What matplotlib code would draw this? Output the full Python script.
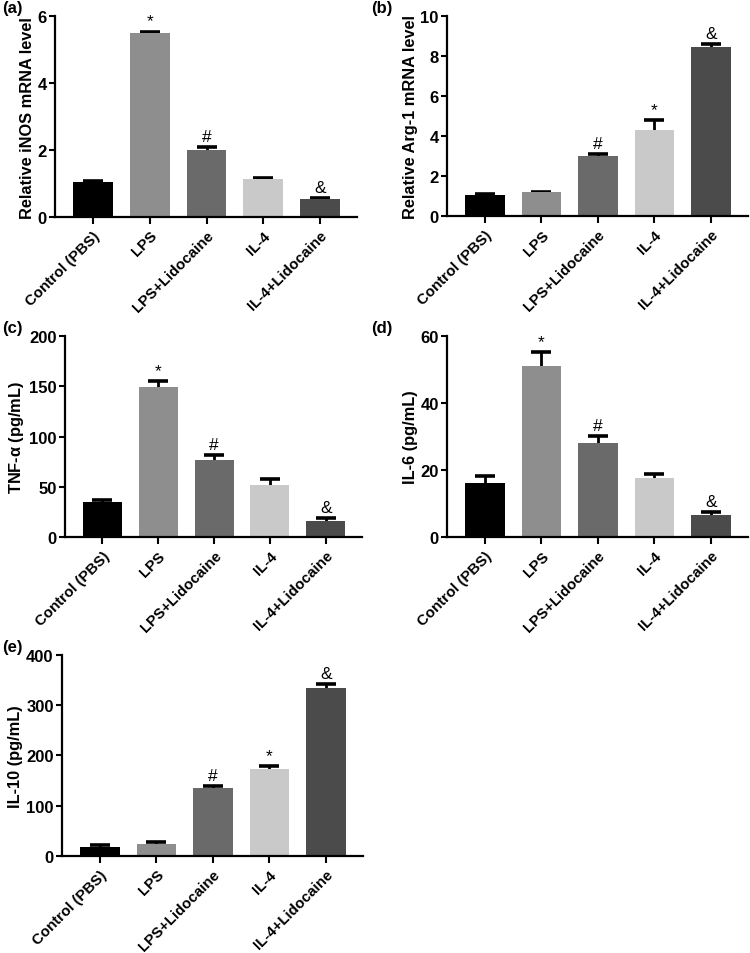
import numpy as np
import matplotlib
matplotlib.use("Agg")
import matplotlib.pyplot as plt

plt.rcParams['font.family'] = ['Liberation Sans', 'DejaVu Sans']
plt.rcParams['font.weight'] = 'bold'
plt.rcParams['mathtext.fontset'] = 'custom'
plt.rcParams['mathtext.rm'] = 'Liberation Sans:bold'
plt.rcParams['mathtext.it'] = 'Liberation Sans:bold'

groups = ['Control (PBS)', 'LPS', 'LPS+Lidocaine', 'IL-4', 'IL-4+Lidocaine']
bar_colors = ['#000000', '#8e8e8e', '#6a6a6a', '#c9c9c9', '#4b4b4b']

inos_mean = [1.04, 5.49, 1.99, 1.13, 0.53]
inos_err = [0.03, 0.05, 0.09, 0.04, 0.04]
inos_marks = ['', '*', '#', '', '&']

arg1_mean = [1.06, 1.18, 3.02, 4.32, 8.45]
arg1_err = [0.02, 0.03, 0.1, 0.5, 0.15]
arg1_marks = ['', '', '#', '*', '&']

tnf_mean = [34.8, 149.5, 76.6, 52.1, 16.3]
tnf_err = [2.0, 6.0, 5.3, 5.6, 2.3]
tnf_marks = ['', '*', '#', '', '&']

il6_mean = [16.1, 51.1, 28.1, 17.5, 6.5]
il6_err = [2.0, 4.0, 2.0, 1.3, 0.9]
il6_marks = ['', '*', '#', '', '&']

il10_mean = [18.6, 23.3, 135.5, 172.8, 333.6]
il10_err = [4.0, 4.6, 4.0, 6.0, 8.0]
il10_marks = ['', '', '#', '*', '&']

panels = [
    ('(a)', 'Relative iNOS mRNA level', inos_mean, inos_err, inos_marks,
     6, [0, 2, 4, 6], [0.0733, 0.7715, 0.4027, 0.2105], 0.003),
    ('(b)', 'Relative Arg-1 mRNA level', arg1_mean, arg1_err, arg1_marks,
     10, [0, 2, 4, 6, 8, 10], [0.596, 0.7725, 0.401, 0.2095], 0.495),
    ('(c)', r'TNF-$\alpha$ (pg/mL)', tnf_mean, tnf_err, tnf_marks,
     200, [0, 50, 100, 150, 200], [0.0867, 0.436, 0.396, 0.2108], 0.003),
    ('(d)', 'IL-6 (pg/mL)', il6_mean, il6_err, il6_marks,
     60, [0, 20, 40, 60], [0.596, 0.436, 0.401, 0.2108], 0.495),
    ('(e)', 'IL-10 (pg/mL)', il10_mean, il10_err, il10_marks,
     400, [0, 100, 200, 300, 400], [0.0827, 0.1017, 0.401, 0.2107], 0.003),
]

fig = plt.figure(figsize=(7.5, 9.54), dpi=100)

for tag, ylab, means, errs, marks, ymax, yticks, rect, tag_x in panels:
    ax = fig.add_axes(rect)
    x = np.arange(len(groups))
    ax.bar(x, means, width=0.7, color=bar_colors, zorder=2)
    # symmetric bars drawn behind the columns so only the upper half shows
    ax.errorbar(x, means, yerr=errs, fmt='none', ecolor='black',
                elinewidth=2.0, capsize=7, capthick=2.6, zorder=1)
    for xi, m, e, s in zip(x, means, errs, marks):
        if s:
            ax.text(xi, m + e + ymax * 0.015, s, ha='center', va='bottom',
                    fontsize=12.5, fontweight='normal')
    ax.set_xlim(-0.67, 4.65)
    ax.set_ylim(0, ymax)
    ax.set_yticks(yticks)
    ax.set_xticks(x)
    ax.set_xticklabels(groups, rotation=45, ha='right',
                       rotation_mode='anchor', fontsize=10.8,
                       fontweight='bold')
    ax.tick_params(axis='y', labelsize=12, width=1.5, length=4, pad=2)
    ax.tick_params(axis='x', width=1.5, length=5, pad=3)
    for lab in ax.get_yticklabels():
        lab.set_fontweight('bold')
    ax.set_ylabel(ylab, fontsize=11.8, fontweight='bold', labelpad=2)
    ax.spines['top'].set_visible(False)
    ax.spines['right'].set_visible(False)
    ax.spines['left'].set_linewidth(1.6)
    ax.spines['bottom'].set_linewidth(1.6)
    fig.text(tag_x, rect[1] + rect[3] + 0.0165, tag, ha='left', va='top',
             fontsize=12, fontweight='bold')

fig.savefig('out.png', dpi=100)
